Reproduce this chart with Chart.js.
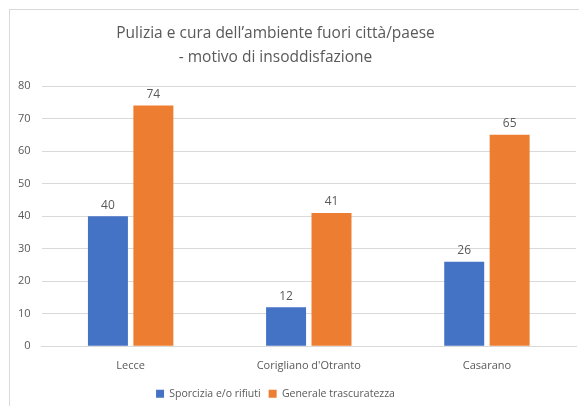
<!DOCTYPE html>
<html>
<head>
<meta charset="utf-8">
<script src="https://cdn.jsdelivr.net/npm/chart.js@4.4.0/dist/chart.umd.min.js"></script>
<style>
    html, body { margin: 0; padding: 0; background: #fff; }
    #wrap { position: relative; width: 579px; height: 406px; overflow: hidden; }
    #frame { position: absolute; left: 9px; top: 9px; width: 600px; height: 420px; border: 1px solid #d9d9d9; box-sizing: border-box; }
    #chart { position: absolute; left: 0; top: 0; }
</style>
</head>
<body>
<div id="wrap">
    <div id="frame"></div>
    <canvas id="chart" width="579" height="406"></canvas>
</div>
<script>
// Dati del grafico
const categorie = ['Lecce', "Corigliano d'Otranto", 'Casarano'];
const sporcizia = [40, 12, 26];
const trascuratezza = [74, 41, 65];
const nomiSerie = ['Sporcizia e/o rifiuti', 'Generale trascuratezza'];
const titolo = ["Pulizia e cura dell\u2019ambiente fuori citt\u00e0/paese", '- motivo di insoddisfazione'];

const coloreTesto = '#595959';
const fontFamily = "'Open Sans', 'Noto Sans', sans-serif";

// Etichette dei valori sopra le barre
const etichetteValori = {
    id: 'etichetteValori',
    afterDatasetsDraw(chart) {
        const ctx = chart.ctx;
        ctx.save();
        ctx.font = '12px ' + fontFamily;
        ctx.fillStyle = coloreTesto;
        ctx.textAlign = 'center';
        ctx.textBaseline = 'bottom';
        chart.data.datasets.forEach((ds, i) => {
            chart.getDatasetMeta(i).data.forEach((bar, j) => {
                ctx.fillText(ds.data[j], bar.x, bar.y - 5);
            });
        });
        ctx.restore();
    }
};

// Il grafico originale è più largo dell'immagine: titolo e legenda sono centrati più a sinistra
const spostaCentro = {
    id: 'spostaCentro',
    afterLayout(chart) {
        const d = 32;
        if (chart.titleBlock) { chart.titleBlock.right -= d; chart.titleBlock.width -= d; }
        if (chart.legend) { chart.legend.right -= d; chart.legend.width -= d; }
    }
};

new Chart(document.getElementById('chart'), {
    type: 'bar',
    data: {
        labels: categorie,
        datasets: [
            {
                label: nomiSerie[0],
                data: sporcizia,
                backgroundColor: '#4472C4',
                categoryPercentage: 0.51,
                barPercentage: 0.88
            },
            {
                label: nomiSerie[1],
                data: trascuratezza,
                backgroundColor: '#ED7D31',
                categoryPercentage: 0.51,
                barPercentage: 0.88
            }
        ]
    },
    options: {
        responsive: false,
        animation: false,
        layout: { padding: { left: 7, right: 3, top: 18, bottom: -3 } },
        scales: {
            x: {
                grid: { display: false },
                border: { color: '#d9d9d9' },
                ticks: { color: coloreTesto, font: { family: fontFamily, size: 11 }, padding: 5 },
                afterFit: function(scale) { scale.height += 3; }
            },
            y: {
                min: 0,
                max: 80,
                ticks: { stepSize: 10, color: coloreTesto, font: { family: fontFamily, size: 11 }, padding: 11 },
                grid: { color: '#d9d9d9', drawTicks: false },
                border: { display: false }
            }
        },
        plugins: {
            title: {
                display: true,
                text: titolo,
                color: coloreTesto,
                font: { family: fontFamily, size: 15.5, weight: 'normal', lineHeight: 1.55 },
                padding: { top: 4, bottom: 16 }
            },
            legend: {
                position: 'bottom',
                labels: {
                    color: coloreTesto,
                    font: { family: fontFamily, size: 10.5 },
                    boxWidth: 8,
                    boxHeight: 8,
                    padding: 8
                }
            },
            tooltip: { enabled: false }
        }
    },
    plugins: [etichetteValori, spostaCentro]
});
</script>
</body>
</html>
